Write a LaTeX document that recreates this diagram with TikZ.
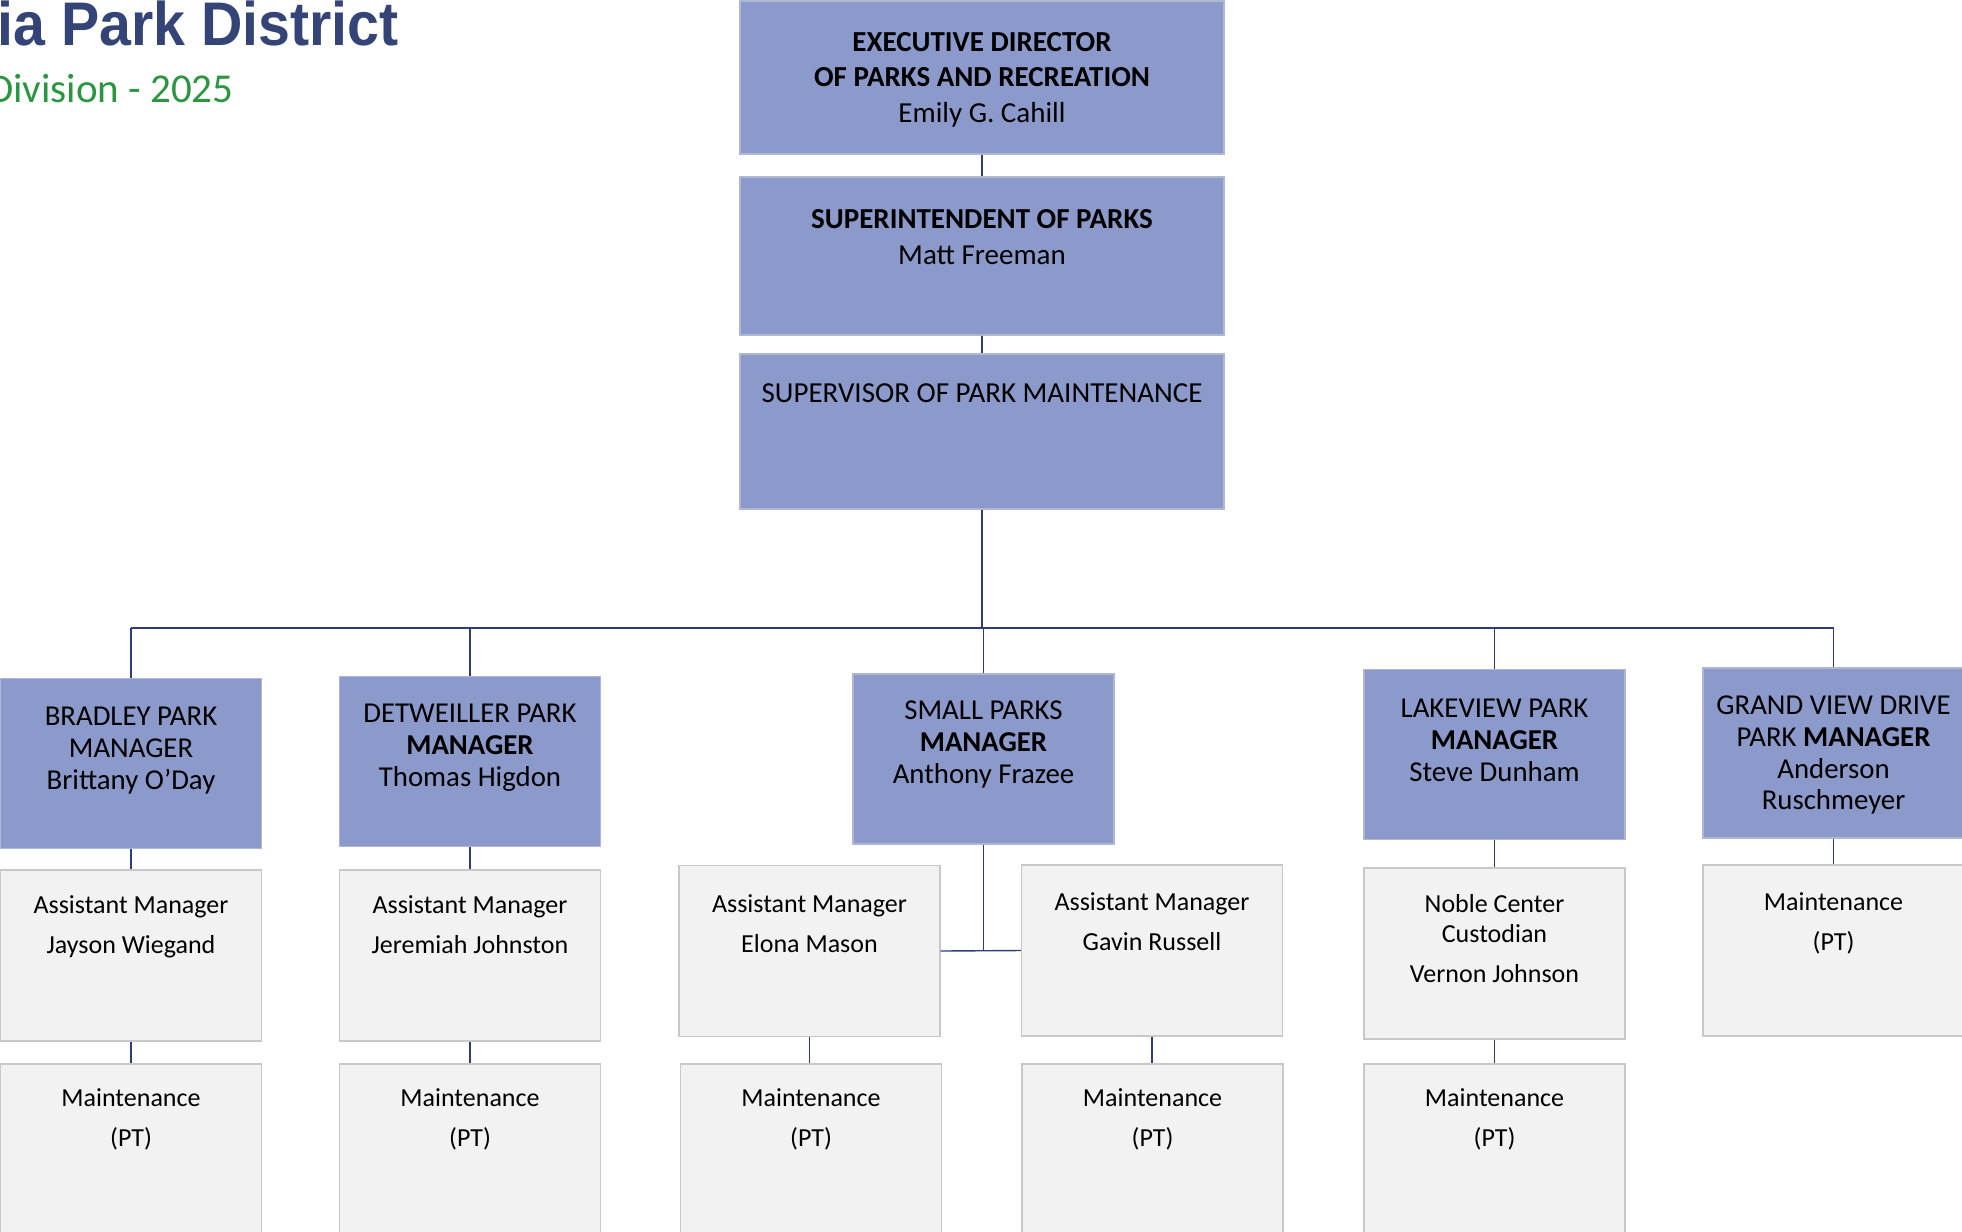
\documentclass[tikz,border=0pt]{standalone}
\usepackage{fontspec}
\setmainfont{Carlito}
\newfontfamily\titlefont[FakeStretch=0.93]{Liberation Sans}

\definecolor{mgrfill}{RGB}{139,154,202}
\definecolor{mgrline}{RGB}{176,183,210}
\definecolor{stafffill}{RGB}{242,242,242}
\definecolor{staffline}{RGB}{200,200,200}
\definecolor{connblue}{RGB}{47,60,122}
\definecolor{titleblue}{RGB}{52,68,118}
\definecolor{titlegreen}{RGB}{43,150,64}

% text block hung from the top edge of a box, first baseline #4 below it
\newcommand{\boxlabel}[5][126pt]{\node[lbl,#3] (#2-t) at ([yshift=-#4]#2.north) {\parbox[t]{#1}{\centering #5}};}

\begin{document}
\begin{tikzpicture}[x=0.5pt, y=-0.5pt,
  mgr/.style={draw=mgrline, fill=mgrfill, line width=0.6pt, inner sep=0pt,
              minimum width=130.5pt, minimum height=85pt},
  head/.style={mgr, minimum width=242pt},
  staff/.style={draw=staffline, fill=stafffill, line width=0.6pt, inner sep=0pt,
                minimum width=130.5pt, minimum height=85.5pt},
  tallstaff/.style={staff, minimum height=100pt},
  conn/.style={draw=connblue, line width=0.7pt},
  lbl/.style={anchor=base, inner sep=0pt, text=black},
  headfont/.style={font=\fontsize{14.5}{17.75}\selectfont},
  mgrfont/.style={font=\fontsize{14.4}{15.9}\selectfont},
  stafffont/.style={font=\fontsize{13}{15}\selectfont}]

\useasboundingbox (0,0) rectangle (1962,1231);
\fill[white] (0,0) rectangle (1962,1231);
\clip (0,0) rectangle (1962,1231);

% heading
\node[anchor=base east, inner sep=0pt, text=titleblue, font=\titlefont\bfseries\fontsize{30.8}{33}\selectfont]
  (title) at (399,45) {ria Park District};
\node[anchor=base east, inner sep=0pt, text=titlegreen, font=\fontsize{20.5}{24}\selectfont]
  (subtitle) at (234,102) {Division - 2025};

% upper chain
\node[head, minimum height=76.5pt] (exec)  at (982,77.5) {};
\node[head, minimum height=79pt] (super) at (982,256) {};
\node[head, minimum height=77.5pt] (supv) at (982,431.5) {};
\boxlabel[236pt]{exec}{headfont}{25.5pt}{\textbf{EXECUTIVE DIRECTOR}\\\textbf{OF PARKS AND RECREATION}\\Emily G. Cahill}
\boxlabel[236pt]{super}{headfont}{26.25pt}{\textbf{SUPERINTENDENT OF PARKS}\\Matt Freeman}
\boxlabel[236pt]{supv}{headfont}{24.5pt}{SUPERVISOR OF PARK MAINTENANCE}

% park managers
\node[mgr] (brad)  at (131,763.5) {};
\node[mgr] (det)   at (470,761.5) {};
\node[mgr] (small) at (983.5,759) {};
\node[mgr] (lake)  at (1494.5,754.5) {};
\node[mgr] (grand) at (1833.5,753) {};
\boxlabel{brad}{mgrfont}{24pt}{BRADLEY PARK\\MANAGER\\Brittany O’Day}
\boxlabel{det}{mgrfont}{23.25pt}{DETWEILLER PARK\\\textbf{MANAGER}\\Thomas Higdon}
\boxlabel{small}{mgrfont}{23.25pt}{SMALL PARKS\\\textbf{MANAGER}\\Anthony Frazee}
\boxlabel{lake}{mgrfont}{24.5pt}{LAKEVIEW PARK\\\textbf{MANAGER}\\Steve Dunham}
\boxlabel{grand}{mgrfont}{23.5pt}{GRAND VIEW DRIVE\\PARK \textbf{MANAGER}\\Anderson\\Ruschmeyer}

% second staff row
\node[staff] (bradA)  at (131,955.5) {};
\node[staff] (detA)   at (470,955.5) {};
\node[staff] (elona)  at (809.5,951) {};
\node[staff] (gavin)  at (1152,950.5) {};
\node[staff] (noble)  at (1494.5,953.5) {};
\node[staff] (grandM) at (1833.5,950.5) {};
\boxlabel{bradA}{stafffont}{22pt}{Assistant Manager\\[5pt]Jayson Wiegand}
\boxlabel{detA}{stafffont}{22pt}{Assistant Manager\\[5pt]Jeremiah Johnston}
\boxlabel{elona}{stafffont}{24pt}{Assistant Manager\\[5pt]Elona Mason}
\boxlabel{gavin}{stafffont}{23.25pt}{Assistant Manager\\[5pt]Gavin Russell}
\boxlabel{noble}{stafffont}{22.5pt}{Noble Center\\Custodian\\[5pt]Vernon Johnson}
\boxlabel{grandM}{stafffont}{23.25pt}{Maintenance\\[5pt](PT)}

% maintenance row
\node[tallstaff] (bradM)  at (131,1164) {};
\node[tallstaff] (detM)   at (470,1164) {};
\node[tallstaff] (elonaM) at (811,1164) {};
\node[tallstaff] (gavinM) at (1152.5,1164) {};
\node[tallstaff] (lakeM)  at (1494.5,1164) {};
\foreach \b in {bradM,detM,elonaM,gavinM,lakeM}
  {\boxlabel{\b}{stafffont}{21.5pt}{Maintenance\\[5pt](PT)}}

% connectors
\coordinate (bus) at (0,628);
\draw[conn] (exec.south) -- (super.north);
\draw[conn] (super.south) -- (supv.north);
\draw[conn] (supv.south) -- (supv.south |- bus);
\draw[conn] (brad.north |- bus) -- (grand.north |- bus);
\foreach \m in {brad,det,small,lake,grand}
  {\draw[conn] (\m.north) -- (\m.north |- bus);}
\draw[conn] (brad.south) -- (brad.south |- bradA.north);
\draw[conn] (det.south) -- (det.south |- detA.north);
\draw[conn] (lake.south) -- (lake.south |- noble.north);
\draw[conn] (grand.south) -- (grand.south |- grandM.north);
\draw[conn] (small.south) -- (small.south |- elona.east);
\draw[conn] (elona.east) -- (gavin.west);
\draw[conn] (bradA.south) -- (bradA.south |- bradM.north);
\draw[conn] (detA.south) -- (detA.south |- detM.north);
\draw[conn] (elona.south) -- (elona.south |- elonaM.north);
\draw[conn] (gavin.south) -- (gavin.south |- gavinM.north);
\draw[conn] (noble.south) -- (noble.south |- lakeM.north);
\end{tikzpicture}
\end{document}
